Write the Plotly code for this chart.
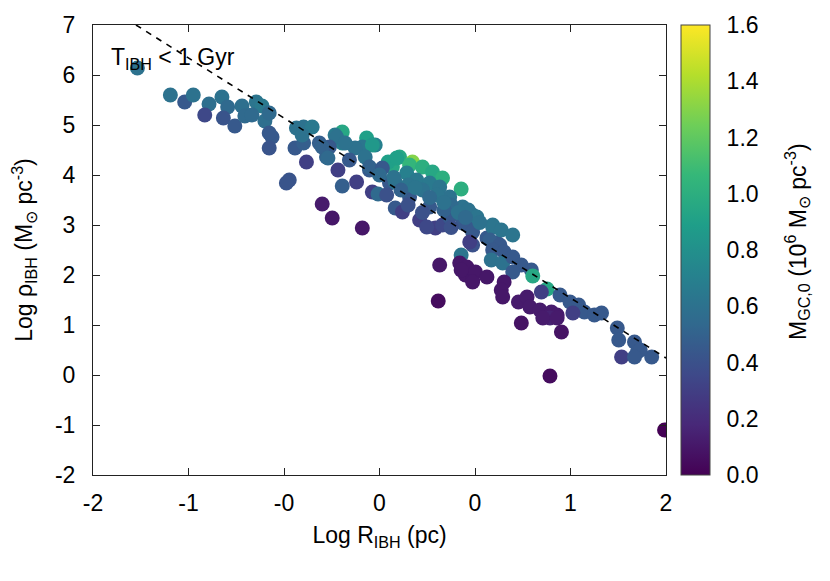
import plotly.graph_objects as go

# log R_IBH (pc), log rho_IBH (Msun pc^-3), initial GC mass (1e6 Msun)
log_r = [
    -1.69, -1.46, -1.36, -1.30, -1.19, -1.22, -1.10, -1.06, -1.09, -1.01,
    -0.96, -0.94, -0.86, -0.82, -0.89, -0.80, -0.75, -0.77, -0.63, -0.65,
    -0.58, -0.53, -0.47, -0.59, -0.53, -0.51, -0.40, -0.33, -0.42, -0.37,
    -0.29, -0.26, -0.26, -0.31, -0.26, -0.12, -0.16, -0.05, -0.01, 0.11,
    0.16, 0.28, 0.39, 0.44, 0.09, 0.57, 0.42, 0.57, 0.42, 0.41,
    0.56, 0.62, 0.60, 0.65, 0.65, -0.30, -0.09, -0.03, -0.12, -0.17,
    0.14, 0.23, 0.21, 0.30, 0.37, 0.44, 0.09, 0.06, 0.19, 0.26,
    0.35, 0.42, 0.49, 0.58, 0.65, 0.79, 0.33, -0.35, -0.21, -0.07,
    0.07, 0.21, 0.35, 0.49, 0.63, 0.75, 0.82, -0.54, -0.40, -0.36,
    -0.24, -0.05, -0.10, -0.07, 0.02, 0.11, 0.12, -0.77, -0.77, 0.62,
    0.68, 0.58, 0.65, 0.63, 0.79, 0.85, 0.93, 0.77, 0.84, 0.79,
    0.87, 0.78, 0.86, 0.93, 0.99, 0.93, 1.06, 1.07, 1.17, 1.13,
    1.26, 1.33, 1.39, 1.43, 1.50, 1.55, 1.35, 1.66, 1.67, 1.78,
    1.80, 1.69, 1.90, 0.61, 0.67, 0.65, 0.75, 0.57, 0.87, 0.85,
    0.86, 0.97, 1.03, 1.05, 1.12, 1.20, 1.24, 1.19, 1.14, 1.24,
    0.99, 1.27, 1.19, 1.99, 1.82, 1.78, 0.30, 0.40, 0.20, 0.50,
    0.15, 0.45, 0.45, 0.55, 0.70, 0.25, 0.10, 0.00, 0.35, 0.60,
    0.30, 0.50, 0.20, 0.05,
]
log_rho = [
    6.14, 5.60, 5.46, 5.60, 5.42, 5.20, 5.56, 5.36, 5.14, 4.98,
    5.38, 5.18, 5.46, 5.38, 5.20, 5.08, 4.76, 4.54, 3.90, 3.84,
    4.94, 4.96, 4.96, 4.54, 4.64, 4.26, 3.42, 3.14, 4.64, 4.36,
    4.10, 3.78, 4.86, 4.80, 4.64, 2.94, 3.86, 3.66, 3.62, 3.34,
    3.26, 3.10, 2.94, 3.00, 3.86, 3.72, 3.86, 2.40, 2.20, 1.48,
    2.24, 2.10, 2.00, 1.90, 2.60, 4.76, 4.74, 4.60, 4.56, 4.54,
    4.36, 4.26, 4.20, 4.16, 4.06, 3.94, 4.16, 4.26, 4.04, 3.90,
    3.84, 3.76, 3.56, 3.36, 3.20, 3.00, 2.96, 4.56, 4.30, 4.10,
    3.84, 3.56, 3.36, 3.16, 2.96, 2.74, 2.64, 4.80, 4.56, 4.34,
    4.64, 4.60, 4.36, 4.16, 4.14, 3.86, 4.34, 5.24, 4.84, 3.30,
    3.16, 3.04, 2.86, 2.66, 2.96, 2.90, 2.80, 2.70, 2.60, 2.50,
    2.46, 2.30, 2.24, 2.36, 2.20, 2.06, 2.10, 1.98, 1.72, 1.66,
    1.60, 1.46, 1.40, 1.26, 1.20, 1.24, 1.24, 0.94, 0.70, 0.66,
    0.46, 0.36, 0.36, 2.16, 2.06, 1.86, 1.96, 2.10, 1.86, 1.70,
    1.56, 1.46, 1.56, 1.36, 1.30, 1.26, 1.20, 1.14, 1.14, 1.14,
    1.04, 0.86, -0.02, -1.10, 0.50, 0.36, 3.70, 3.60, 3.80, 3.40,
    3.70, 3.30, 3.45, 3.25, 3.05, 3.75, 3.95, 4.00, 3.55, 3.15,
    3.25, 2.95, 3.40, 3.60,
]
m_gc = [
    0.60, 0.60, 0.45, 0.60, 0.58, 0.35, 0.60, 0.55, 0.42, 0.45,
    0.58, 0.55, 0.62, 0.65, 0.55, 0.58, 0.45, 0.42, 0.42, 0.42,
    0.60, 0.60, 0.65, 0.45, 0.48, 0.30, 0.12, 0.10, 0.48, 0.50,
    0.30, 0.48, 0.95, 0.65, 0.70, 0.10, 0.30, 0.30, 0.55, 0.45,
    0.30, 0.30, 0.30, 0.35, 1.00, 1.00, 0.95, 0.62, 0.10, 0.05,
    0.10, 0.10, 0.10, 0.10, 0.40, 0.60, 0.90, 0.70, 0.62, 0.60,
    0.95, 1.30, 1.05, 1.00, 0.95, 1.00, 0.95, 0.90, 0.70, 0.65,
    0.65, 0.62, 0.60, 0.60, 0.60, 0.62, 0.35, 0.45, 0.45, 0.45,
    0.45, 0.45, 0.45, 0.45, 0.45, 0.45, 0.45, 0.60, 0.50, 0.55,
    0.60, 0.85, 0.60, 0.50, 0.45, 0.60, 0.90, 0.55, 0.45, 0.60,
    0.62, 0.45, 0.45, 0.30, 0.62, 0.62, 0.62, 0.48, 0.45, 0.45,
    0.45, 0.60, 0.60, 0.45, 0.45, 0.45, 0.45, 0.95, 0.95, 0.30,
    0.45, 0.45, 0.45, 0.45, 0.45, 0.45, 0.30, 0.45, 0.45, 0.45,
    0.45, 0.30, 0.45, 0.10, 0.10, 0.10, 0.10, 0.10, 0.10, 0.10,
    0.10, 0.12, 0.12, 0.12, 0.12, 0.12, 0.12, 0.15, 0.12, 0.12,
    0.08, 0.08, 0.05, 0.00, 0.45, 0.45, 0.60, 0.62, 0.62, 0.55,
    0.50, 0.50, 0.60, 0.60, 0.60, 0.62, 0.60, 0.55, 0.55, 0.55,
    0.40, 0.40, 0.40, 0.40,
]

# T_IBH = 1 Gyr boundary
limit_x = [-1.70, 2.0]
limit_y = [7.0, 0.34]

x_tickvals = [-2, -4 / 3, -2 / 3, 0, 2 / 3, 4 / 3, 2]
x_ticktext = ["-2", "-1", "-0", "0", "0", "1", "2"]
y_tickvals = [-2, -1, 0, 1, 2, 3, 4, 5, 6, 7]
y_ticktext = ["-2", "-1", "0", "1", "2", "3", "4", "5", "6", "7"]
cb_tickvals = [0.0, 0.2, 0.4, 0.6, 0.8, 1.0, 1.2, 1.4, 1.6]

FONT = "Liberation Sans, Arial, sans-serif"
FS = 23

fig = go.Figure()

fig.add_trace(go.Scatter(
    x=log_r, y=log_rho,
    mode="markers",
    marker=dict(
        size=15,
        color=m_gc,
        colorscale="Viridis",
        cmin=0, cmax=1.6,
        line=dict(width=0),
        colorbar=dict(
            x=1.026, xanchor="left", xpad=0,
            y=0.5, yanchor="middle", len=1.0, ypad=0,
            thickness=29,
            outlinewidth=1, outlinecolor="#444",
            tickvals=cb_tickvals,
            tickformat=".1f",
            ticks="outside", ticklen=12, tickcolor="rgba(0,0,0,0)",
            tickfont=dict(size=FS, color="black", family=FONT),
        ),
    ),
    showlegend=False,
    hoverinfo="skip",
))

fig.add_trace(go.Scatter(
    x=limit_x, y=limit_y,
    mode="lines",
    line=dict(color="black", width=1.6, dash="6px,6px"),
    showlegend=False,
    hoverinfo="skip",
))

fig.add_annotation(
    x=-1.89, y=6.34, xref="x", yref="y",
    text="T<sub>IBH</sub> < 1 Gyr",
    showarrow=False, xanchor="left", yanchor="middle",
    font=dict(size=FS, color="black", family=FONT),
)

# colorbar title, rotated
fig.add_annotation(
    x=1.2286, y=0.52, xref="paper", yref="paper",
    text="M<sub>GC,0</sub> (10<sup>6</sup> M<sub>⊙</sub> pc<sup>-3</sup>)",
    textangle=-90, showarrow=False,
    xanchor="center", yanchor="middle",
    font=dict(size=FS, color="black", family=FONT),
)

axis_common = dict(
    showline=True, linecolor="#222", linewidth=1, mirror="ticks",
    ticks="inside", ticklen=7, tickcolor="#222",
    showgrid=False, zeroline=False,
    tickfont=dict(size=FS, color="black", family=FONT),
)

fig.update_xaxes(
    range=[-2, 2],
    tickvals=x_tickvals, ticktext=x_ticktext,
    ticklabelstandoff=7,
    title=dict(text="Log R<sub>IBH</sub> (pc)", standoff=12,
               font=dict(size=FS, color="black", family=FONT)),
    **axis_common,
)
fig.update_yaxes(
    range=[-2, 7],
    tickvals=y_tickvals, ticktext=y_ticktext,
    ticklabelstandoff=12,
    title=dict(text="Log ρ<sub>IBH</sub> (M<sub>⊙</sub> pc<sup>-3</sup>)", standoff=15,
               font=dict(size=FS, color="black", family=FONT)),
    **axis_common,
)

fig.update_layout(
    width=830, height=581,
    margin=dict(l=93, r=164, t=25, b=106),
    plot_bgcolor="white", paper_bgcolor="white",
    font=dict(family=FONT, color="black"),
)

fig.write_html(
    "out.html",
    config={"displayModeBar": False},
    post_script="document.body.style.margin = '0px';",
)
